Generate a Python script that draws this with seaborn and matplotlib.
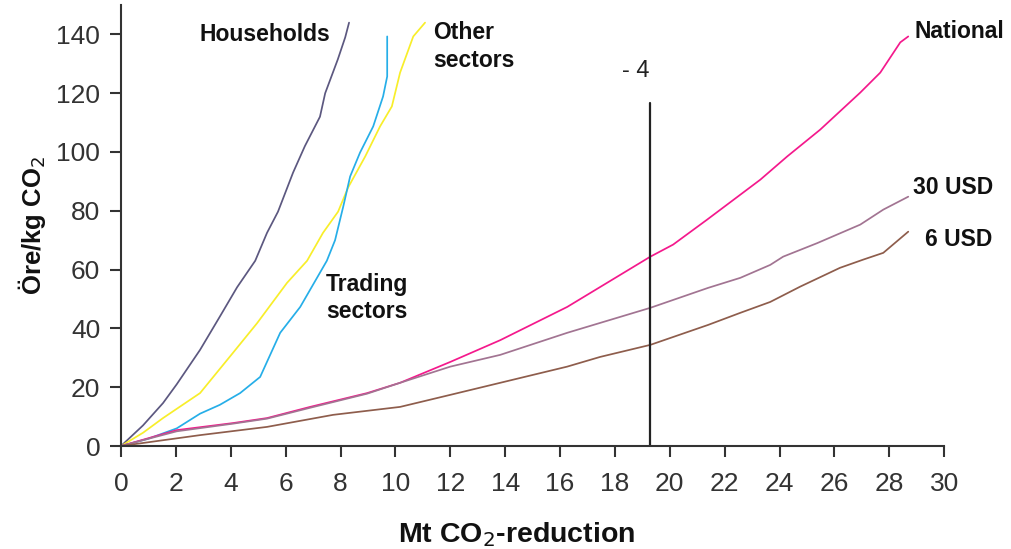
import pandas as pd
import matplotlib
matplotlib.use("Agg")
import matplotlib.pyplot as plt
import seaborn as sns

# Kurvor (Mt CO2, öre/kg CO2)
hh_x = [0, 0.8, 1.53, 2.03, 2.88, 3.6, 4.23, 4.89, 5.32, 5.72, 6.27, 6.7, 7.25, 7.44, 7.9, 8.17, 8.31]
hh_y = [0, 7.0, 14.6, 21.0, 32.7, 44.0, 54.0, 63.0, 72.5, 79.7, 93.0, 102.0, 112.0, 120.0, 131.5, 139.0, 144.0]

oth_x = [0, 0.8, 1.53, 2.88, 4.08, 4.96, 6.05, 6.78, 7.36, 7.91, 8.28, 8.9, 9.44, 9.87, 10.17, 10.65, 11.08]
oth_y = [0, 4.5, 9.5, 18.0, 31.7, 41.8, 55.5, 63.0, 72.5, 79.7, 88.0, 98.5, 108.7, 115.5, 127.0, 139.3, 144.0]

trd_x = [0, 1.0, 2.03, 2.88, 3.6, 4.34, 5.07, 5.8, 6.53, 7.5, 7.8, 8.1, 8.35, 8.71, 9.19, 9.55, 9.7, 9.7]
trd_y = [0, 2.5, 6.0, 11.0, 14.0, 18.0, 23.5, 38.5, 47.3, 63.0, 70.0, 81.5, 91.7, 99.8, 108.7, 118.9, 125.7, 139.3]

nat_x = [0, 2.03, 4.08, 5.32, 6.89, 8.97, 10.17, 12.0, 13.82, 16.26, 19.29, 20.12, 21.36, 23.3,
         24.28, 25.48, 26.94, 27.67, 28.4, 28.69]
nat_y = [0, 5.4, 7.8, 9.5, 13.3, 18.0, 21.5, 28.6, 36.0, 47.3, 64.4, 68.5, 77.0, 90.6,
         98.5, 107.6, 120.2, 127.0, 137.3, 139.3]

u30_x = [0, 2.03, 4.08, 5.32, 6.89, 8.97, 10.17, 12.0, 13.82, 16.26, 19.29, 21.4, 22.57, 23.66,
         24.13, 25.37, 26.94, 27.78, 28.69]
u30_y = [0, 5.0, 7.6, 9.3, 13.0, 17.8, 21.5, 27.0, 31.0, 38.5, 47.0, 53.8, 57.2, 61.6,
         64.4, 69.0, 75.3, 80.4, 84.8]

u6_x = [0, 2.88, 5.32, 7.73, 10.17, 12.0, 13.82, 16.26, 17.46, 19.29, 21.4, 22.57, 23.66, 24.75,
        26.2, 27.05, 27.78, 28.69]
u6_y = [0, 3.7, 6.5, 10.6, 13.3, 17.4, 21.5, 27.0, 30.3, 34.4, 41.2, 45.3, 49.0, 54.2,
        60.6, 63.4, 65.7, 72.9]

series = {
    "Households": (hh_x, hh_y),
    "Other sectors": (oth_x, oth_y),
    "Trading sectors": (trd_x, trd_y),
    "National": (nat_x, nat_y),
    "30 USD": (u30_x, u30_y),
    "6 USD": (u6_x, u6_y),
}
colors = {
    "Households": "#5c5880",
    "Other sectors": "#f8ee2a",
    "Trading sectors": "#26aee8",
    "National": "#f4198c",
    "30 USD": "#a27492",
    "6 USD": "#8e5d4c",
}

rows = []
for name, (xs, ys) in series.items():
    for i, (x, y) in enumerate(zip(xs, ys)):
        rows.append({"serie": name, "ordning": i, "mt": x, "ore": y})
df = pd.DataFrame(rows)

cut_x = 19.29
cut_top = 116.8

sns.set_style("white")
plt.rcParams["font.family"] = ["Liberation Sans", "DejaVu Sans"]

fig = plt.figure(figsize=(10.12, 5.49), dpi=100)
ax = fig.add_axes([0.1196, 0.1876, 0.933 - 0.1196, 0.9909 - 0.1876])

for name in series:
    sub = df[df["serie"] == name]
    sns.lineplot(data=sub, x="mt", y="ore", sort=False, estimator=None,
                 color=colors[name], lw=1.25, ax=ax, legend=False)

# vertikal linje vid -4
ax.plot([cut_x, cut_x], [0, cut_top], color="#222222", lw=1.6)
ax.text(18.75, 127.5, "- 4", fontsize=17, color="#222222", ha="center", va="center")

lab_kw = dict(fontsize=16.5, fontweight="bold", color="#111111", clip_on=False)
ax.text(7.62, 140, "Households", ha="right", va="center", **lab_kw)
ax.text(11.37, 135.9, "Other\nsectors", ha="left", va="center", linespacing=1.25, **lab_kw)
ax.text(7.47, 50.4, "Trading\nsectors", ha="left", va="center", linespacing=1.25, **lab_kw)
ax.text(28.9, 141, "National", ha="left", va="center", **lab_kw)
ax.text(28.87, 87.9, "30 USD", ha="left", va="center", **lab_kw)
ax.text(29.31, 70.2, "6 USD", ha="left", va="center", **lab_kw)

ax.set_xlim(0, 30)
ax.set_ylim(0, 150)
ax.set_xticks(range(0, 31, 2))
ax.set_yticks(range(0, 141, 20))
for s in ["top", "right"]:
    ax.spines[s].set_visible(False)
for s in ["left", "bottom"]:
    ax.spines[s].set_color("#333333")
    ax.spines[s].set_linewidth(1.5)
ax.tick_params(axis="x", direction="out", length=8, width=1.5, color="#333333",
               labelsize=19, labelcolor="#333333", pad=11, bottom=True)
ax.tick_params(axis="y", direction="out", length=8, width=1.5, color="#333333",
               labelsize=19, labelcolor="#333333", pad=7, left=True)

ax.set_xlabel("Mt CO$_2$-reduction", fontsize=20.5, fontweight="bold", color="#111111", labelpad=16)
ax.xaxis.set_label_coords(0.481, -0.2, transform=ax.transAxes)
ax.xaxis.label.set_verticalalignment("center")
ax.set_ylabel("Öre/kg CO$_2$", fontsize=18.5, fontweight="bold", color="#111111", labelpad=6)

fig.savefig("out.png", dpi=100)
